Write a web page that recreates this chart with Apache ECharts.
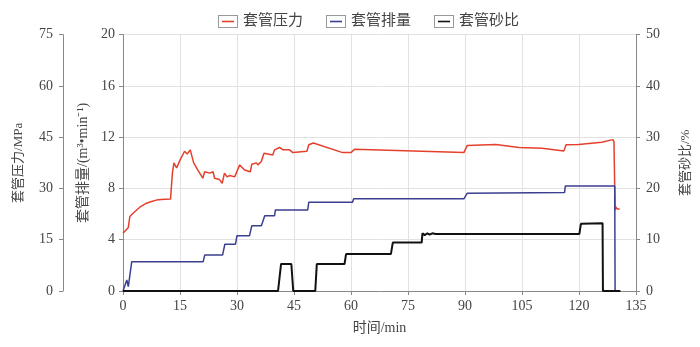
<!DOCTYPE html>
<html>
<head>
<meta charset="utf-8">
<script src="https://cdn.jsdelivr.net/npm/echarts@6/dist/echarts.min.js"></script>
<style>
  html, body { margin: 0; padding: 0; background: #fff; }
  #chart { width: 700px; height: 347px; }
</style>
</head>
<body>
<div id="chart"></div>
<script>
// 时间轴刻度
var timeTicks = [0, 15, 30, 45, 60, 75, 90, 105, 120, 135];

// 套管压力 MPa  [时间min, 值]
var pressure = [
  [0, 16.9], [1.4, 18.6], [1.8, 21.8], [2.5, 22.6], [3.6, 23.7], [4.5, 24.6], [6.2, 25.7],
  [7.5, 26.2], [8.8, 26.6], [10, 26.8], [12.5, 26.9], [13.0, 34.5], [13.4, 37.5], [14.1, 36.0],
  [15, 38.3], [16.2, 40.9], [16.9, 40.1], [17.7, 41.3], [18.6, 37.5], [19.7, 35.4], [21.0, 33.0],
  [21.5, 34.9], [22.8, 34.5], [23.7, 34.9], [24.1, 33.0], [25.4, 32.6], [26.1, 31.5], [26.7, 34.5],
  [27.4, 33.4], [28.1, 33.8], [29.4, 33.4], [30.7, 36.9], [32.0, 35.4], [33.5, 34.9], [33.9, 37.1],
  [35.1, 37.5], [35.5, 36.9], [36.4, 37.9], [37.1, 40.3], [39.4, 39.8], [39.9, 41.3], [41.2, 42.0],
  [42.1, 41.3], [43.8, 41.3], [44.7, 40.5], [48.4, 40.9], [48.9, 42.8], [50.1, 43.3], [57.8, 40.5],
  [60.0, 40.5], [60.9, 41.5], [89.7, 40.5], [90.6, 42.6], [98.1, 42.9], [104.2, 42.0], [110.3, 41.8],
  [116.0, 41.0], [116.6, 42.8], [119.9, 42.9], [126.0, 43.5], [128.9, 44.3], [129.2, 43.7],
  [129.5, 23.7], [129.7, 24.6], [130.0, 24.0], [130.7, 24.0]
];

// 套管排量 m3/min
var flow = [
  [0, 0], [1.0, 0.86], [1.4, 0.34], [2.3, 2.29], [21.1, 2.29], [21.5, 2.8], [26.2, 2.8], [26.8, 3.65],
  [29.6, 3.65], [30.0, 4.32], [33.3, 4.32], [33.9, 5.1], [36.4, 5.1], [36.7, 5.34], [37.1, 5.34],
  [37.3, 5.88], [39.9, 5.88], [40.1, 6.33], [48.6, 6.33], [48.9, 6.93], [60.4, 6.93], [60.7, 7.19],
  [89.7, 7.19], [90.6, 7.63], [116.2, 7.68], [116.4, 8.2], [129.4, 8.2], [129.5, 0]
];

// 套管砂比 %
var sand = [
  [0, 0], [40.8, 0], [41.6, 5.27], [44.3, 5.27], [44.8, 0], [50.6, 0], [51.0, 5.27], [58.3, 5.27],
  [58.7, 7.2], [70.5, 7.2], [71.0, 9.44], [78.6, 9.44], [78.8, 11.26], [79.4, 10.9], [80.1, 11.26],
  [80.7, 11.0], [81.4, 11.26], [82.3, 11.13], [120.1, 11.13], [120.5, 13.1], [126.2, 13.2],
  [126.3, 0], [130.9, 0]
];

var seriesNames = ['套管压力', '套管排量', '套管砂比'];
var seriesColors = ['#e5402c', '#3b3f8f', '#111111'];

var FONT = "'Liberation Serif', 'Noto Sans CJK SC', serif";
var TXT = '#444';

// 图例小方框图标
function boxIcon(color) {
  var svg = '<svg xmlns="http://www.w3.org/2000/svg" width="20" height="13">' +
    '<rect x="0.5" y="0.5" width="19" height="12" fill="#fff" stroke="#999"/>' +
    '<line x1="4" y1="6.5" x2="16" y2="6.5" stroke="' + color + '" stroke-width="1.6"/></svg>';
  return 'image://data:image/svg+xml;charset=utf-8,' + encodeURIComponent(svg);
}

var axisLineStyle = { show: true, onZero: false, lineStyle: { color: '#888' } };
var tickStyle = { show: true, length: 4, lineStyle: { color: '#888' } };

var myChart = echarts.init(document.getElementById('chart'));
myChart.setOption({
  animation: false,
  textStyle: { fontFamily: FONT },
  legend: {
    left: 213,
    top: 9,
    itemWidth: 20,
    itemHeight: 13,
    itemGap: 23,
    textStyle: { fontFamily: FONT, fontSize: 15, color: TXT },
    data: seriesNames.map(function (n, i) {
      return { name: n, icon: boxIcon(seriesColors[i]) };
    })
  },
  grid: { left: 123, right: 62.5, top: 34.7, bottom: 56, containLabel: false },
  xAxis: {
    type: 'value',
    min: timeTicks[0],
    max: timeTicks[timeTicks.length - 1],
    interval: 15,
    name: '时间/min',
    nameLocation: 'middle',
    nameGap: 30,
    nameTextStyle: { fontFamily: FONT, fontSize: 14, color: TXT },
    axisLine: axisLineStyle,
    axisTick: tickStyle,
    axisLabel: { fontFamily: FONT, fontSize: 14, color: TXT, margin: 8 },
    splitLine: { show: true, lineStyle: { color: '#e2e2e2' } }
  },
  yAxis: [
    {
      type: 'value', position: 'left', offset: 60,
      min: 0, max: 75, interval: 15,
      name: '套管压力/MPa', nameLocation: 'middle', nameGap: 38, nameRotate: 90,
      nameTextStyle: { fontFamily: FONT, fontSize: 13, color: TXT },
      axisLine: axisLineStyle, axisTick: tickStyle,
      axisLabel: { fontFamily: FONT, fontSize: 14, color: TXT, margin: 10 },
      splitLine: { show: false }
    },
    {
      type: 'value', position: 'left', offset: 0,
      min: 0, max: 20, interval: 4,
      name: '套管排量/(m³•min⁻¹)', nameLocation: 'middle', nameGap: 30, nameRotate: 90,
      nameTextStyle: { fontFamily: FONT, fontSize: 14, color: TXT },
      axisLine: axisLineStyle, axisTick: tickStyle,
      axisLabel: { fontFamily: FONT, fontSize: 14, color: TXT, margin: 8 },
      splitLine: { show: true, lineStyle: { color: '#e2e2e2' } }
    },
    {
      type: 'value', position: 'right', offset: 0,
      min: 0, max: 50, interval: 10,
      name: '套管砂比/%', nameLocation: 'middle', nameGap: 43, nameRotate: 90,
      nameTextStyle: { fontFamily: FONT, fontSize: 13, color: TXT },
      axisLine: axisLineStyle, axisTick: tickStyle,
      axisLabel: { fontFamily: FONT, fontSize: 14, color: TXT, margin: 10 },
      splitLine: { show: false }
    }
  ],
  series: [
    {
      name: seriesNames[0], type: 'line', yAxisIndex: 0, data: pressure,
      showSymbol: false, symbol: 'none',
      lineStyle: { color: seriesColors[0], width: 1.5 }, itemStyle: { color: seriesColors[0] }
    },
    {
      name: seriesNames[1], type: 'line', yAxisIndex: 1, data: flow,
      showSymbol: false, symbol: 'none',
      lineStyle: { color: seriesColors[1], width: 1.5 }, itemStyle: { color: seriesColors[1] }
    },
    {
      name: seriesNames[2], type: 'line', yAxisIndex: 2, data: sand,
      showSymbol: false, symbol: 'none',
      lineStyle: { color: seriesColors[2], width: 2 }, itemStyle: { color: seriesColors[2] }
    }
  ]
});
</script>
</body>
</html>
